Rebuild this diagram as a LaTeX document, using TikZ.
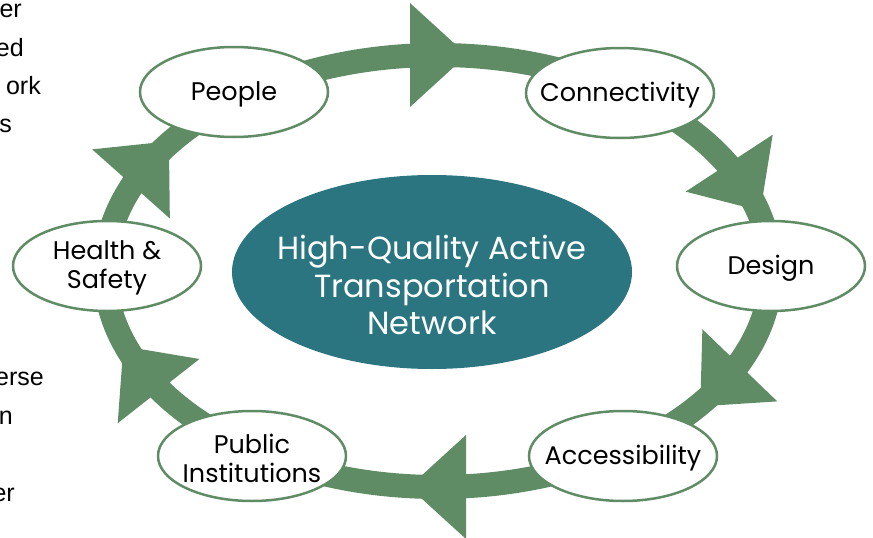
\documentclass[tikz,border=0pt]{standalone}
\usepackage{fontspec}
\setmainfont{Poppins}
\newfontfamily\arialf{Liberation Sans}
\usetikzlibrary{shapes.geometric}
\definecolor{ringgreen}{RGB}{95,140,100}
\definecolor{hubteal}{RGB}{42,117,128}
\tikzset{
  ringline/.style={draw=ringgreen, line width=24pt},
  arrowhd/.style={fill=ringgreen},
  bubble/.style={ellipse, draw=ringgreen, line width=2.5pt, fill=white, minimum width=188pt, minimum height=90pt, inner sep=0pt},
  lbl/.style={font=\fontsize{25.5}{29}\selectfont, align=center, text=black, inner sep=0pt, yshift=-2pt},
  hub/.style={ellipse, fill=hubteal, minimum width=400pt, minimum height=194pt, inner sep=0pt},
  hubtxt/.style={font=\fontsize{32}{37.5}\selectfont, align=center, text=white, inner sep=0pt},
  frag/.style={font=\arialf\fontsize{25}{30}\selectfont, anchor=base east, inner sep=0pt, text=black}
}
\begin{document}
\begin{tikzpicture}[x=1pt,y=-1pt]
\useasboundingbox (0,0) rectangle (873,538);
\clip (0,0) rectangle (873,538);
% side text fragments
\node[frag] (f1) at (22,17) {er};
\node[frag] (f2) at (24,56) {ed};
\node[frag] (f3) at (41,94) {ork};
\node[frag] (f4) at (12,132) {s};
\node[frag] (f5) at (44,385) {erse};
\node[frag] (f6) at (13,424) {n};
\node[frag] (f7) at (15,501) {er};
% ring
\coordinate (rc) at (438,271);
\draw[ringline] (rc) ellipse [x radius=333pt, y radius=216pt];
\foreach \t in {-90,-23,32,90,153,-150}{
  \pgfmathsetmacro\px{438+333*cos(\t)}
  \pgfmathsetmacro\py{271+216*sin(\t)}
  \pgfmathsetmacro\ang{atan2(-216*cos(\t),-333*sin(\t))}
  \fill[arrowhd, shift={(\px,\py)}, rotate=\ang] (-28,-52) -- (29,0) -- (-28,52) -- cycle;
}
% hub
\node[hub] (hubE) at (432,272) {};
\node[hubtxt] (hubT) at (432,285) {High-Quality Active\\Transportation\\Network};
% bubbles
\node[bubble] (people) at (234,92) {};
\node[lbl] (peopleT) at (people) {People};
\node[bubble] (conn) at (620,93) {};
\node[lbl] (connT) at (conn) {Connectivity};
\node[bubble] (design) at (771,266) {};
\node[lbl] (designT) at (design) {Design};
\node[bubble] (access) at (623,456) {};
\node[lbl] (accessT) at (access) {Accessibility};
\node[bubble] (public) at (252,456) {};
\node[lbl] (publicT) at (public) {Public\\Institutions};
\node[bubble] (health) at (107,266) {};
\node[lbl] (healthT) at (health) {Health \&\\Safety};
\end{tikzpicture}
\end{document}
